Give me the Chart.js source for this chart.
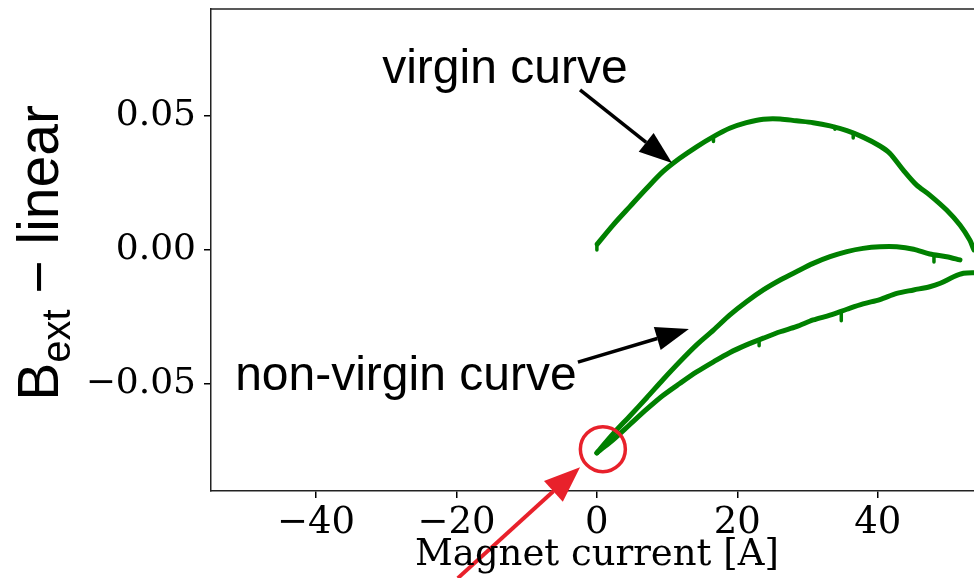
<!DOCTYPE html>
<html>
<head>
<meta charset="utf-8">
<script src="https://cdn.jsdelivr.net/npm/chart.js@4"></script>
<style>
  html, body { margin: 0; padding: 0; background: #fff; }
  #wrap { width: 974px; height: 578px; }
</style>
</head>
<body>
<div id="wrap"><canvas id="chart" width="974" height="578"></canvas></div>
<script>
// virgin curve (magnet current [A], B_ext - linear)
const virginX = [0.05, 2.3, 4.7, 7.1, 9.4, 11.8, 14.2, 16.6, 18.9, 21.3, 23.7, 26.1, 28.4, 30.8, 33.2, 35.6, 37.9, 40.3, 41.7, 43.6, 45.5, 47.4, 49.8, 51.7, 53.1, 53.7, 54.6];
const virginY = [0.0022, 0.0093, 0.0162, 0.0230, 0.0292, 0.0342, 0.0385, 0.0423, 0.0454, 0.0475, 0.0488, 0.0489, 0.0482, 0.0475, 0.0463, 0.0445, 0.0421, 0.0388, 0.0361, 0.0299, 0.0243, 0.0205, 0.0149, 0.0093, 0.0037, 0.0, -0.0045];

// non-virgin curve, upper branch
const upperX = [0.0, 0.2, 2.3, 4.7, 7.1, 9.4, 11.8, 14.2, 16.6, 18.9, 21.3, 23.7, 26.1, 28.4, 30.8, 33.2, 35.6, 37.9, 40.3, 42.7, 45.1, 47.4, 49.8, 51.7];
const upperY = [-0.0757, -0.0750, -0.0686, -0.0619, -0.0551, -0.0484, -0.0417, -0.0354, -0.0299, -0.0243, -0.0193, -0.0149, -0.0112, -0.0081, -0.0050, -0.0025, -0.0006, 0.0006, 0.0012, 0.0012, 0.0003, -0.0015, -0.0025, -0.0037];

// non-virgin curve, lower branch
const lowerX = [0.0, 0.4, 2.3, 4.7, 7.1, 9.4, 11.8, 14.2, 16.6, 18.9, 21.3, 23.7, 26.1, 28.4, 30.8, 33.2, 35.6, 37.9, 40.3, 42.7, 45.1, 47.4, 48.9, 50.8, 52.2, 53.7, 55.3];
const lowerY = [-0.0757, -0.0748, -0.0708, -0.0651, -0.0594, -0.0543, -0.0498, -0.0455, -0.0417, -0.0383, -0.0354, -0.0329, -0.0305, -0.0286, -0.0261, -0.0243, -0.0221, -0.0201, -0.0185, -0.0162, -0.0149, -0.0137, -0.0124, -0.0100, -0.0087, -0.0085, -0.0086];

// short downward glitches on the curves
const glitchX = [0.0, 16.6, 33.9, 36.5, 48.0, 23.1, 34.8];
const glitchTop = [0.0022, 0.0423, 0.0461, 0.0438, -0.0017, -0.0340, -0.0234];
const glitchBottom = [0.0, 0.0405, 0.0450, 0.0418, -0.0045, -0.0357, -0.0264];

// annotations, in data coordinates
const noteText = ['virgin curve', 'non-virgin curve'];
const noteX = [-13.1, -27.2];
const noteY = [0.0672, -0.0474];
const arrowTailX = [-2.4, -2.7];
const arrowTailY = [0.0597, -0.0418];
const arrowTipX = [10.7, 13.1];
const arrowTipY = [0.0325, -0.0295];
const markX = 0.85, markY = -0.0743;
const redTailX = -19.8, redTailY = -0.1224;
const redTipX = -2.4, redTipY = -0.0810;

const xTicks = [-40, -20, 0, 20, 40];
const yTicks = [-0.05, 0.00, 0.05];

const toPts = (xs, ys) => xs.map((x, i) => ({ x: x, y: ys[i] }));
const fmt = (v, d) => (v < 0 ? '\u2212' : '') + Math.abs(v).toFixed(d);

function arrowHead(ctx, x0, y0, x1, y1, len, half, color, lw) {
  const a = Math.atan2(y1 - y0, x1 - x0);
  const bx = x1 - len * Math.cos(a), by = y1 - len * Math.sin(a);
  ctx.strokeStyle = color;
  ctx.fillStyle = color;
  ctx.lineWidth = lw;
  ctx.beginPath();
  ctx.moveTo(x0, y0);
  ctx.lineTo(bx, by);
  ctx.stroke();
  ctx.beginPath();
  ctx.moveTo(x1, y1);
  ctx.lineTo(bx + half * Math.sin(a), by - half * Math.cos(a));
  ctx.lineTo(bx - half * Math.sin(a), by + half * Math.cos(a));
  ctx.closePath();
  ctx.fill();
}

const extras = {
  id: 'extras',
  afterDraw(chart) {
    const { ctx, chartArea, scales } = chart;
    const sx = v => scales.x.getPixelForValue(v);
    const sy = v => scales.y.getPixelForValue(v);
    ctx.save();

    // top spine
    ctx.strokeStyle = '#222';
    ctx.lineWidth = 1.5;
    ctx.beginPath();
    ctx.moveTo(chartArea.left - 0.75, chartArea.top);
    ctx.lineTo(chartArea.right, chartArea.top);
    ctx.stroke();

    // text labels
    ctx.fillStyle = '#000';
    ctx.font = '48px "Liberation Sans", Arial, sans-serif';
    ctx.textAlign = 'center';
    ctx.textBaseline = 'middle';
    noteText.forEach((t, i) => ctx.fillText(t, sx(noteX[i]), sy(noteY[i])));

    // black arrows
    ctx.lineCap = 'butt';
    for (let i = 0; i < arrowTailX.length; i++) {
      arrowHead(ctx, sx(arrowTailX[i]), sy(arrowTailY[i]), sx(arrowTipX[i]), sy(arrowTipY[i]), 33, 12, '#000', 3.5);
    }

    // red circle and arrow
    ctx.strokeStyle = '#e8212b';
    ctx.lineWidth = 3.5;
    ctx.beginPath();
    ctx.arc(sx(markX), sy(markY), 22.5, 0, Math.PI * 2);
    ctx.stroke();
    arrowHead(ctx, sx(redTailX), sy(redTailY), sx(redTipX), sy(redTipY), 36, 14, '#e8212b', 4);

    // x axis title
    ctx.fillStyle = '#000';
    ctx.font = '37px "DejaVu Serif", serif';
    ctx.textAlign = 'center';
    ctx.textBaseline = 'middle';
    ctx.fillText('Magnet current [A]', sx(0), 555);

    // y axis title: B_ext − linear
    ctx.translate(38, 253);
    ctx.rotate(-Math.PI / 2);
    const big = '57px "Liberation Sans", Arial, sans-serif';
    const small = '40px "Liberation Sans", Arial, sans-serif';
    ctx.textAlign = 'left';
    ctx.textBaseline = 'alphabetic';
    ctx.font = big;
    const wB = ctx.measureText('B').width;
    const wRest = ctx.measureText(' \u2212 linear').width;
    ctx.font = small;
    const wExt = ctx.measureText('ext').width;
    const x0 = -(wB + wExt + wRest) / 2;
    const base = 20;
    ctx.font = big;
    ctx.fillText('B', x0, base);
    ctx.font = small;
    ctx.fillText('ext', x0 + wB, base + 12);
    ctx.font = big;
    ctx.fillText(' \u2212 linear', x0 + wB + wExt, base);

    ctx.restore();
  }
};

const curveStyle = {
  borderColor: '#008000',
  borderWidth: 5,
  pointRadius: 0,
  fill: false,
  tension: 0.3,
  borderCapStyle: 'round',
  borderJoinStyle: 'round',
  showLine: true,
  clip: 0
};

const glitchSets = glitchX.map((x, i) => Object.assign({}, curveStyle, {
  label: 'glitch' + i,
  data: [{ x: x, y: glitchTop[i] }, { x: x, y: glitchBottom[i] }],
  borderWidth: 3.5,
  tension: 0
}));

new Chart(document.getElementById('chart').getContext('2d'), {
  type: 'scatter',
  data: {
    datasets: [
      Object.assign({}, curveStyle, { label: 'virgin', data: toPts(virginX, virginY) }),
      Object.assign({}, curveStyle, { label: 'upper', data: toPts(upperX, upperY) }),
      Object.assign({}, curveStyle, { label: 'lower', data: toPts(lowerX, lowerY) })
    ].concat(glitchSets)
  },
  options: {
    responsive: false,
    animation: false,
    events: [],
    layout: { padding: { top: 9, right: 0, left: 0, bottom: 0 } },
    plugins: { legend: { display: false }, tooltip: { enabled: false } },
    scales: {
      x: {
        type: 'linear',
        min: -54.95,
        max: 53.7,
        afterFit: s => { s.height = 87; s.paddingLeft = 0; s.paddingRight = 0; },
        afterBuildTicks: s => { s.ticks = xTicks.map(v => ({ value: v })); },
        ticks: {
          callback: v => fmt(v, 0),
          font: { family: '"DejaVu Serif", serif', size: 37 },
          color: '#000',
          padding: 3,
          maxRotation: 0,
          autoSkip: false
        },
        grid: { drawOnChartArea: false, drawTicks: true, tickLength: 7, color: '#000', lineWidth: 1.5 },
        border: { display: true, color: '#222', width: 1.5 }
      },
      y: {
        type: 'linear',
        min: -0.0899,
        max: 0.0899,
        afterFit: s => { s.width = 211; s.paddingTop = 0; s.paddingBottom = 0; },
        afterBuildTicks: s => { s.ticks = yTicks.map(v => ({ value: v })); },
        ticks: {
          callback: v => fmt(v, 2),
          font: { family: '"DejaVu Serif", serif', size: 36 },
          color: '#000',
          padding: 8,
          autoSkip: false
        },
        grid: { drawOnChartArea: false, drawTicks: true, tickLength: 7, color: '#000', lineWidth: 1.5 },
        border: { display: true, color: '#222', width: 1.5 }
      }
    }
  },
  plugins: [extras]
});
</script>
</body>
</html>
